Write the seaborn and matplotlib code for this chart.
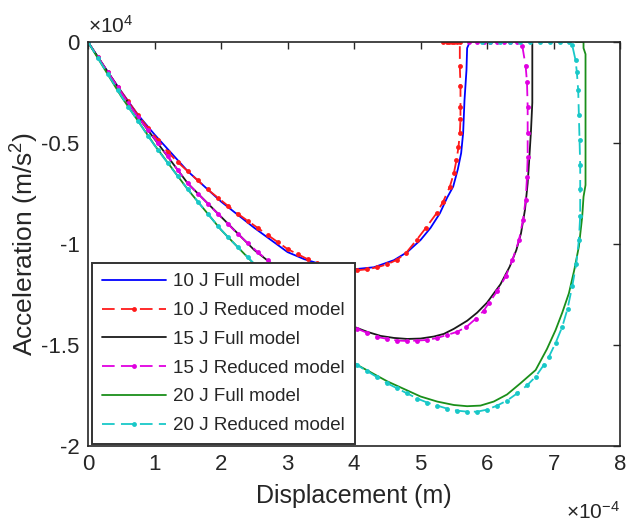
import matplotlib
matplotlib.use("Agg")
import matplotlib.pyplot as plt
import seaborn as sns
from matplotlib.ticker import FixedLocator

# ---------------- data (x in 1e-4 m, y in 1e4 m/s^2) ----------------
x_10_full = [0, 0.25, 0.5, 0.75, 1.0, 1.5, 2.0, 2.5, 3.0, 3.25, 3.5, 3.65, 3.8, 4.0, 4.3, 4.6, 4.8, 5.0, 5.15, 5.29, 5.4, 5.49,
             5.56, 5.61, 5.64, 5.66, 5.69, 5.70, 5.74]
y_10_full = [0, -0.125, -0.245, -0.36, -0.458, -0.64, -0.79, -0.92, -1.04, -1.075, -1.10, -1.11, -1.12, -1.125, -1.115, -1.08, -1.04, -0.98, -0.92, -0.848, -0.77, -0.716,
             -0.63, -0.55, -0.45, -0.29, -0.14, -0.03, 0]

x_10_red = [0, 0.15, 0.3, 0.45, 0.6, 0.75, 0.9, 1.05, 1.2, 1.35, 1.5, 1.65, 1.8, 1.95, 2.1, 2.25, 2.4, 2.55, 2.7, 2.85,
            3.0, 3.15, 3.3, 3.45, 3.6, 3.75, 3.9, 4.05, 4.2, 4.35, 4.5, 4.64, 4.78, 4.94, 5.08, 5.24, 5.34, 5.44, 5.50, 5.54,
            5.57, 5.59, 5.60, 5.60, 5.60, 5.59, 5.59, 5.55, 5.51, 5.47, 5.43, 5.39, 5.34]
y_10_red = [0, -0.075, -0.15, -0.222, -0.292, -0.36, -0.425, -0.485, -0.545, -0.595, -0.64, -0.685, -0.73, -0.77, -0.81, -0.85, -0.885, -0.92, -0.955, -0.99,
            -1.025, -1.05, -1.075, -1.095, -1.11, -1.12, -1.13, -1.13, -1.125, -1.115, -1.10, -1.079, -1.045, -0.98, -0.92, -0.848, -0.79, -0.716, -0.65, -0.584,
            -0.52, -0.452, -0.38, -0.32, -0.22, -0.12, 0, 0, 0, 0, 0, 0, 0]

x_15_full = [0, 0.25, 0.5, 0.75, 1.0, 1.5, 2.0, 2.5, 3.0, 3.5, 4.0, 4.2, 4.4, 4.6, 4.8, 5.0, 5.2, 5.35, 5.5, 5.7, 5.85, 6.0, 6.1, 6.2,
             6.34, 6.44, 6.51, 6.57, 6.61, 6.63, 6.66, 6.68, 6.68]
y_15_full = [0, -0.125, -0.25, -0.37, -0.48, -0.70, -0.865, -1.03, -1.16, -1.30, -1.41, -1.435, -1.455, -1.465, -1.47, -1.468, -1.458, -1.445, -1.42, -1.38, -1.34, -1.29, -1.245, -1.20,
             -1.112, -1.03, -0.947, -0.83, -0.70, -0.60, -0.44, -0.30, 0]

x_15_red = [0, 0.15, 0.3, 0.45, 0.6, 0.75, 0.9, 1.05, 1.2, 1.35, 1.5, 1.65, 1.8, 1.95, 2.1, 2.25, 2.4, 2.55, 2.7, 2.85,
            3.0, 3.15, 3.3, 3.45, 3.6, 3.75, 3.9, 4.05, 4.2, 4.35, 4.5, 4.65, 4.8, 4.95, 5.1, 5.25, 5.4, 5.55, 5.69, 5.83,
            5.95, 6.03, 6.15, 6.28, 6.38, 6.48, 6.54, 6.58, 6.60, 6.61, 6.61, 6.61, 6.60, 6.58, 6.53,
            6.45, 6.35, 6.25, 6.15, 6.05, 5.95, 5.85, 5.73]
y_15_red = [0, -0.075, -0.15, -0.225, -0.30, -0.37, -0.435, -0.50, -0.565, -0.635, -0.70, -0.75, -0.80, -0.85, -0.90, -0.95, -0.995, -1.04, -1.08, -1.12,
            -1.16, -1.20, -1.245, -1.285, -1.325, -1.36, -1.395, -1.42, -1.44, -1.46, -1.47, -1.478, -1.48, -1.478, -1.475, -1.465, -1.45, -1.435, -1.41, -1.37,
            -1.33, -1.29, -1.235, -1.16, -1.08, -0.98, -0.88, -0.78, -0.67, -0.568, -0.45, -0.32, -0.20, -0.12, -0.02,
            0, 0, 0, 0, 0, 0, 0, 0]

x_20_full = [0, 0.25, 0.5, 0.75, 1.0, 1.5, 2.0, 2.5, 3.0, 3.5, 4.0, 4.5, 5.0, 5.25, 5.5, 5.7, 5.9, 6.1, 6.3, 6.5, 6.73, 6.9, 7.03,
             7.13, 7.23, 7.31, 7.38, 7.43, 7.45, 7.48, 7.48, 7.45, 7.45, 7.33]
y_20_full = [0, -0.135, -0.27, -0.39, -0.51, -0.73, -0.93, -1.10, -1.27, -1.44, -1.59, -1.68, -1.755, -1.78, -1.797, -1.803, -1.80, -1.78, -1.745, -1.69, -1.624, -1.52, -1.426,
             -1.34, -1.244, -1.13, -1.013, -0.865, -0.766, -0.708, -0.06, -0.03, 0, 0]

x_20_red = [0, 0.15, 0.3, 0.45, 0.6, 0.75, 0.9, 1.05, 1.2, 1.35, 1.5, 1.65, 1.8, 1.95, 2.1, 2.25, 2.4, 2.55, 2.7, 2.85,
            3.0, 3.15, 3.3, 3.45, 3.6, 3.75, 3.9, 4.05, 4.2, 4.35, 4.5, 4.65, 4.8, 4.95, 5.1, 5.25, 5.4, 5.55, 5.7, 5.85,
            6.0, 6.15, 6.3, 6.45, 6.6, 6.73, 6.85, 6.93, 7.03, 7.13, 7.21, 7.28, 7.34, 7.38, 7.40, 7.40, 7.40, 7.39, 7.38, 7.37,
            7.35, 7.33, 7.28, 7.23, 7.1, 6.95, 6.8, 6.65, 6.5, 6.35, 6.2, 6.05, 5.93]
y_20_red = [0, -0.08, -0.16, -0.24, -0.32, -0.39, -0.465, -0.535, -0.60, -0.665, -0.73, -0.79, -0.85, -0.91, -0.965, -1.015, -1.065, -1.115, -1.165, -1.215,
            -1.27, -1.32, -1.37, -1.42, -1.465, -1.51, -1.555, -1.60, -1.63, -1.66, -1.69, -1.715, -1.74, -1.765, -1.785, -1.80, -1.815, -1.825, -1.83, -1.83,
            -1.82, -1.80, -1.775, -1.74, -1.70, -1.657, -1.60, -1.558, -1.49, -1.41, -1.32, -1.21, -1.10, -0.98, -0.86, -0.73, -0.61, -0.485, -0.36, -0.24,
            -0.15, -0.09, -0.015, 0, 0, 0, 0, 0, 0, 0, 0, 0, 0]

labels = ["10 J Full model", "10 J Reduced model", "15 J Full model",
          "15 J Reduced model", "20 J Full model", "20 J Reduced model"]
colors = ["#0000ff", "#ff1a1a", "#1a1a1a", "#e000e0", "#1a8f1a", "#19c8c8"]

x_ticks = [0, 1, 2, 3, 4, 5, 6, 7, 8]
y_ticks = [0, -0.5, -1, -1.5, -2]
y_tick_labels = ["0", "-0.5", "-1", "-1.5", "-2"]

# ---------------- style ----------------
sns.set_style("white")
plt.rcParams["font.family"] = ["Liberation Sans", "DejaVu Sans"]
plt.rcParams["mathtext.fontset"] = "custom"
plt.rcParams["mathtext.rm"] = "Liberation Sans"
plt.rcParams["mathtext.it"] = "Liberation Sans"

fig = plt.figure(figsize=(6.27, 5.22), dpi=100)
ax = fig.add_axes([0.1404, 0.1456, 0.8486, 0.7739])

series = [
    (x_10_full, y_10_full, False),
    (x_10_red, y_10_red, True),
    (x_15_full, y_15_full, False),
    (x_15_red, y_15_red, True),
    (x_20_full, y_20_full, False),
    (x_20_red, y_20_red, True),
]

for (xs, ys, reduced), lab, col in zip(series, labels, colors):
    n_before = len(ax.lines)
    if reduced:
        sns.lineplot(x=xs, y=ys, ax=ax, sort=False, estimator=None, color=col,
                     linestyle="--", marker=".", markersize=7,
                     markeredgewidth=0, linewidth=1.3, label=lab)
        for ln in ax.lines[n_before:]:
            ln.set_dashes((7, 3.5))
    else:
        sns.lineplot(x=xs, y=ys, ax=ax, sort=False, estimator=None, color=col,
                     linestyle="-", linewidth=1.3, label=lab)

ax.set_xlim(0, 8)
ax.set_ylim(-2, 0)
ax.xaxis.set_major_locator(FixedLocator(x_ticks))
ax.yaxis.set_major_locator(FixedLocator(y_ticks))
ax.set_xticklabels([str(t) for t in x_ticks])
ax.set_yticklabels(y_tick_labels)
ax.tick_params(direction="in", length=5, width=1, top=True, right=True,
               labelsize=16, colors="#262626", pad=6)
for sp in ax.spines.values():
    sp.set_visible(True)
    sp.set_color("#262626")
    sp.set_linewidth(1.2)

ax.set_xlabel("Displacement (m)", fontsize=18, color="#262626", labelpad=6)
ax.set_ylabel("Acceleration (m/s$^2$)", fontsize=19, color="#262626", labelpad=0)

ax.text(0.0, 1.012, r"$\times$10$^{4}$", transform=ax.transAxes, fontsize=15,
        ha="left", va="bottom", color="#262626")
ax.text(1.0, -0.135, r"$\times$10$^{-4}$", transform=ax.transAxes, fontsize=15,
        ha="right", va="top", color="#262626")

handles, labs = ax.get_legend_handles_labels()
leg = ax.legend(handles, labs, loc="lower left", bbox_to_anchor=(0.007, 0.004), borderaxespad=0,
                fontsize=13.5, frameon=True, fancybox=False, edgecolor="#333333",
                handlelength=3.4, labelspacing=0.62, handletextpad=0.4,
                borderpad=0.55, numpoints=1)
leg.get_frame().set_linewidth(1.4)
leg.get_frame().set_alpha(1)

fig.savefig("out.png", dpi=100)
